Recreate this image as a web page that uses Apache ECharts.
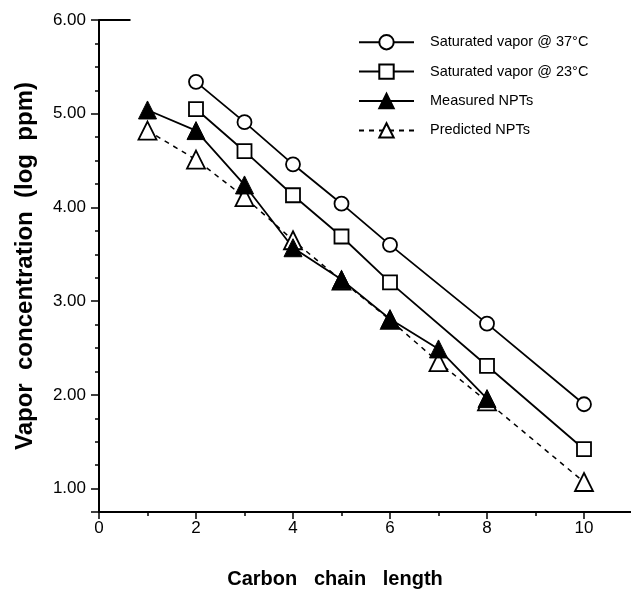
<!DOCTYPE html>
<html>
<head>
<meta charset="utf-8">
<script src="https://cdn.jsdelivr.net/npm/echarts@6/dist/echarts.min.js"></script>
<style>
  html, body { margin: 0; padding: 0; background: #fff; }
  #chart { width: 631px; height: 596px; }
</style>
</head>
<body>
<div id="chart"></div>
<script>
// data
var carbonSat = [2, 3, 4, 5, 6, 8, 10];
var vapor37 = [5.34, 4.91, 4.46, 4.04, 3.60, 2.76, 1.90];
var vapor23 = [5.05, 4.60, 4.13, 3.69, 3.20, 2.31, 1.42];
var carbonMeasured = [1, 2, 3, 4, 5, 6, 7, 8];
var measuredNPT = [5.04, 4.82, 4.24, 3.57, 3.23, 2.81, 2.49, 1.96];
var carbonPredicted = [1, 2, 3, 4, 5, 6, 7, 8, 10];
var predictedNPT = [4.82, 4.51, 4.11, 3.65, 3.22, 2.80, 2.35, 1.93, 1.07];
var seriesNames = ['Saturated vapor @ 37°C', 'Saturated vapor @ 23°C', 'Measured NPTs', 'Predicted NPTs'];

function pairs(xs, ys) {
    return xs.map(function (x, i) { return [x, ys[i]]; });
}

var font = 'Liberation Sans';
var myChart = echarts.init(document.getElementById('chart'));

var option = {
    backgroundColor: '#fff',
    animation: false,
    // x axis title sits under 0..10, not under the full axis
    title: {
        text: 'Carbon   chain   length',
        left: 335,
        top: 569,
        textAlign: 'center',
        padding: 0,
        textStyle: { fontFamily: font, fontSize: 20, fontWeight: 'bold', color: '#000' }
    },
    legend: {
        orient: 'vertical',
        left: 358,
        top: 34,
        padding: 0,
        itemWidth: 55,
        itemHeight: 18,
        itemGap: 13,
        data: seriesNames,
        textStyle: { fontFamily: font, fontSize: 14.5, color: '#000', padding: [0, 0, 0, 11] }
    },
    grid: { left: 99, top: 20, right: -50, bottom: 84, outerBoundsMode: 'none' },
    xAxis: {
        type: 'value',
        min: 0,
        max: 12,
        interval: 2,
        axisLine: { lineStyle: { color: '#000', width: 2 } },
        axisTick: { length: 7, lineStyle: { color: '#000', width: 1.5 } },
        minorTick: { show: true, splitNumber: 2, length: 4, lineStyle: { color: '#000', width: 1.5 } },
        axisLabel: { fontFamily: font, fontSize: 17, color: '#000', margin: 8 },
        splitLine: { show: false }
    },
    yAxis: {
        type: 'value',
        min: 0.75,
        max: 6,
        splitNumber: 5,
        name: 'Vapor  concentration  (log  ppm)',
        nameLocation: 'middle',
        nameGap: 62,
        nameRotate: 90,
        nameTextStyle: { fontFamily: font, fontSize: 24, fontWeight: 'bold', color: '#000' },
        axisLine: { lineStyle: { color: '#000', width: 2 } },
        axisTick: { length: 8, lineStyle: { color: '#000', width: 1.5 } },
        minorTick: { show: true, splitNumber: 4, length: 4, lineStyle: { color: '#000', width: 1.5 } },
        axisLabel: {
            fontFamily: font, fontSize: 17, color: '#000', margin: 13,
            formatter: function (v) { return Math.abs(v - Math.round(v)) < 1e-6 ? v.toFixed(2) : ''; }
        },
        splitLine: { show: false }
    },
    series: [
        {
            name: seriesNames[3],
            type: 'line',
            data: pairs(carbonPredicted, predictedNPT),
            symbol: 'triangle',
            symbolSize: 18,
            lineStyle: { color: '#000', width: 1.5, type: [5, 5] },
            itemStyle: { color: '#fff', borderColor: '#000', borderWidth: 1.8 }
        },
        {
            name: seriesNames[2],
            type: 'line',
            data: pairs(carbonMeasured, measuredNPT),
            symbol: 'triangle',
            symbolSize: 18,
            lineStyle: { color: '#000', width: 1.8 },
            itemStyle: { color: '#000', borderColor: '#000', borderWidth: 1 }
        },
        {
            name: seriesNames[1],
            type: 'line',
            data: pairs(carbonSat, vapor23),
            symbol: 'rect',
            symbolSize: 14,
            lineStyle: { color: '#000', width: 1.8 },
            itemStyle: { color: '#fff', borderColor: '#000', borderWidth: 1.8 }
        },
        {
            name: seriesNames[0],
            type: 'line',
            data: pairs(carbonSat, vapor37),
            symbol: 'circle',
            symbolSize: 14,
            lineStyle: { color: '#000', width: 1.8 },
            itemStyle: { color: '#fff', borderColor: '#000', borderWidth: 1.8 },
            markLine: {
                silent: true,
                symbol: 'none',
                label: { show: false },
                lineStyle: { color: '#000', width: 2, type: 'solid' },
                data: [[{ coord: [0, 6] }, { coord: [0.65, 6] }]]
            }
        }
    ]
};
myChart.setOption(option);
</script>
</body>
</html>
